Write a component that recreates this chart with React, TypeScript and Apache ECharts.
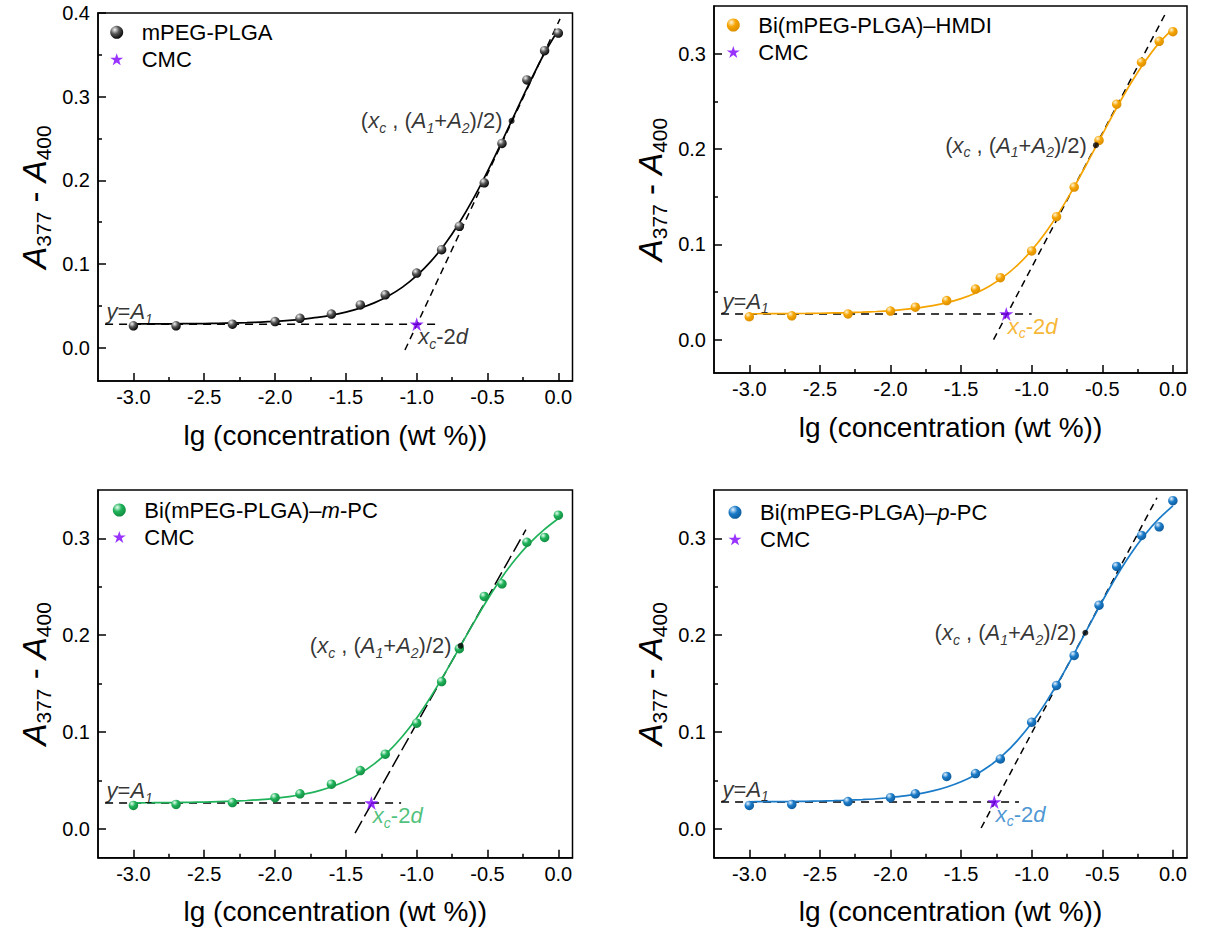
import React, { useEffect, useRef } from "react";
import * as echarts from "echarts";

const FONT = '"Liberation Sans", Arial, Helvetica, sans-serif';

// ---------- data ----------
const lgConc = [-3, -2.699, -2.301, -2, -1.824, -1.602, -1.398, -1.222, -1, -0.824, -0.699, -0.523, -0.398, -0.222, -0.097, 0];

const absMPEG = [0.026, 0.026, 0.028, 0.031, 0.035, 0.040, 0.051, 0.063, 0.089, 0.117, 0.145, 0.197, 0.244, 0.320, 0.355, 0.376];
const absHMDI = [0.024, 0.025, 0.027, 0.030, 0.034, 0.041, 0.053, 0.065, 0.093, 0.129, 0.160, 0.209, 0.247, 0.291, 0.313, 0.323];
const absMPC = [0.024, 0.025, 0.027, 0.032, 0.036, 0.046, 0.060, 0.077, 0.109, 0.152, 0.186, 0.240, 0.253, 0.296, 0.301, 0.324];
const absPPC = [0.024, 0.025, 0.028, 0.032, 0.036, 0.054, 0.057, 0.072, 0.110, 0.148, 0.179, 0.231, 0.271, 0.303, 0.312, 0.339];

const fitX = [-3.0, -2.9, -2.8, -2.7, -2.6, -2.5, -2.4, -2.3, -2.2, -2.1, -2.0, -1.9, -1.8, -1.7, -1.6, -1.5,
  -1.4, -1.3, -1.2, -1.1, -1.0, -0.9, -0.8, -0.7, -0.6, -0.5, -0.4, -0.3, -0.2, -0.1, 0.0];
const fitMPEG = [0.0282, 0.0282, 0.0283, 0.0284, 0.0286, 0.0287, 0.0290, 0.0294, 0.0298, 0.0305, 0.0313, 0.0324, 0.0340, 0.0360, 0.0387, 0.0423,
  0.0471, 0.0534, 0.0617, 0.0723, 0.0859, 0.1030, 0.1239, 0.1490, 0.1780, 0.2106, 0.2457, 0.2819, 0.3176, 0.3513, 0.3800];
const fitHMDI = [0.0271, 0.0272, 0.0273, 0.0274, 0.0275, 0.0277, 0.0280, 0.0283, 0.0288, 0.0295, 0.0304, 0.0317, 0.0334, 0.0357, 0.0388, 0.0430,
  0.0487, 0.0561, 0.0658, 0.0782, 0.0937, 0.1126, 0.1348, 0.1600, 0.1872, 0.2152, 0.2427, 0.2684, 0.2912, 0.3108, 0.3260];
const fitMPC = [0.0267, 0.0268, 0.0269, 0.0270, 0.0272, 0.0275, 0.0279, 0.0284, 0.0291, 0.0300, 0.0313, 0.0331, 0.0356, 0.0388, 0.0433, 0.0492,
  0.0569, 0.0669, 0.0796, 0.0955, 0.1144, 0.1364, 0.1607, 0.1864, 0.2122, 0.2369, 0.2594, 0.2790, 0.2954, 0.3090, 0.3205];
const fitPPC = [0.0278, 0.0279, 0.0280, 0.0281, 0.0283, 0.0286, 0.0289, 0.0294, 0.0301, 0.0309, 0.0322, 0.0338, 0.0360, 0.0390, 0.0431, 0.0485,
  0.0555, 0.0647, 0.0764, 0.0912, 0.1091, 0.1303, 0.1544, 0.1807, 0.2080, 0.2350, 0.2606, 0.2836, 0.3035, 0.3201, 0.3336];

const cmcMPEG = [-1.0, 0.028];
const cmcHMDI = [-1.18, 0.027];
const cmcMPC = [-1.32, 0.0265];
const cmcPPC = [-1.265, 0.0276];

const xcMPEG = [-0.33, 0.271];
const xcHMDI = [-0.545, 0.204];
const xcMPC = [-0.69, 0.189];
const xcPPC = [-0.62, 0.2025];

const baseMPEG = [[-3.2, 0.028], [-0.86, 0.028]];
const baseHMDI = [[-3.2, 0.027], [-1.0, 0.027]];
const baseMPC = [[-3.2, 0.0265], [-1.11, 0.0265]];
const basePPC = [[-3.2, 0.0276], [-1.09, 0.0276]];

const tanMPEG = [[-1.083, -0.003], [0.012, 0.393]];
const tanHMDI = [[-1.27, 0.0], [-0.042, 0.345]];
const tanMPC = [[-1.435, -0.0045], [-0.229, 0.309]];
const tanPPC = [[-1.358, 0.0007], [-0.113, 0.342]];

const seriesNames = ["mPEG-PLGA", "Bi(mPEG-PLGA)–HMDI", "Bi(mPEG-PLGA)–m-PC", "Bi(mPEG-PLGA)–p-PC"];

const xTicks = [-3, -2.5, -2, -1.5, -1, -0.5, 0];
const xMinorTicks = [-2.75, -2.25, -1.75, -1.25, -0.75, -0.25];
const yTicksA = [0, 0.1, 0.2, 0.3, 0.4];
const yMinorA = [0.05, 0.15, 0.25, 0.35];
const yTicksB = [0, 0.1, 0.2, 0.3];
const yMinorB = [0.05, 0.15, 0.25];

const xTitle = "lg (concentration (wt %))";

// ---------- styling ----------
const STAR = "path://M50,0 L61.8,35.1 L100,35.1 L69.1,56.7 L80.9,93.3 L50,70.5 L19.1,93.3 L30.9,56.7 L0,35.1 L38.2,35.1 Z";
const STAR_COLOR = "#8000FF";

function ball(light: string, base: string, dark: string) {
  return new echarts.graphic.RadialGradient(0.35, 0.3, 0.75, [
    { offset: 0, color: light },
    { offset: 0.45, color: base },
    { offset: 1, color: dark },
  ]);
}

function rich(color: string) {
  return {
    n: { fontFamily: FONT, fontSize: 22, color, lineHeight: 26 },
    i: { fontFamily: FONT, fontSize: 22, color, lineHeight: 26, fontStyle: "italic" },
    s: { fontFamily: FONT, fontSize: 14, color, lineHeight: 14, fontStyle: "italic", padding: [14, 0, 0, 0] },
  };
}

const legendRich = {
  n: { fontFamily: FONT, fontSize: 22, color: "#000", lineHeight: 24 },
  i: { fontFamily: FONT, fontSize: 22, color: "#000", lineHeight: 24, fontStyle: "italic" },
};

function legendText(name: string) {
  if (name === seriesNames[2]) return "{n|Bi(mPEG-PLGA)–}{i|m}{n|-PC}";
  if (name === seriesNames[3]) return "{n|Bi(mPEG-PLGA)–}{i|p}{n|-PC}";
  return "{n|" + name + "}";
}

const panels = [
  {
    name: seriesNames[0], color: "#000000", ball: ball("#f4f4f4", "#555555", "#000000"),
    abs: absMPEG, fit: fitMPEG, cmc: cmcMPEG, xc: xcMPEG, base: baseMPEG, tan: tanMPEG, tanDash: [7, 5],
    yMin: -0.04, yMax: 0.4, yTicks: yTicksA, yMinor: yMinorA,
    grid: { left: 98, top: 13, width: 474.5, height: 368 }, legend: { x: 116.7, y: 32.3 },
  },
  {
    name: seriesNames[1], color: "#F5A400", ball: ball("#fff4d6", "#F5A400", "#d98d00"),
    abs: absHMDI, fit: fitHMDI, cmc: cmcHMDI, xc: xcHMDI, base: baseHMDI, tan: tanHMDI, tanDash: [7, 5],
    yMin: -0.035, yMax: 0.35, yTicks: yTicksB, yMinor: yMinorB,
    grid: { left: 714, top: 6, width: 473, height: 367 }, legend: { x: 733.3, y: 25 },
  },
  {
    name: seriesNames[2], color: "#1FB25A", ball: ball("#e6fff0", "#1FB25A", "#12893f"),
    abs: absMPC, fit: fitMPC, cmc: cmcMPC, xc: xcMPC, base: baseMPC, tan: tanMPC, tanDash: [14, 5],
    yMin: -0.03, yMax: 0.35, yTicks: yTicksB, yMinor: yMinorB,
    grid: { left: 98, top: 490, width: 474.5, height: 367.7 }, legend: { x: 119.3, y: 510 },
  },
  {
    name: seriesNames[3], color: "#1A7BC8", ball: ball("#e4f2ff", "#1A7BC8", "#0e5a9a"),
    abs: absPPC, fit: fitPPC, cmc: cmcPPC, xc: xcPPC, base: basePPC, tan: tanPPC, tanDash: [7, 5],
    yMin: -0.03, yMax: 0.35, yTicks: yTicksB, yMinor: yMinorB,
    grid: { left: 714, top: 490, width: 473, height: 367.7 }, legend: { x: 735, y: 512.3 },
  },
];

const ICON = 13;

function buildOption() {
  const grid: any[] = [];
  const xAxis: any[] = [];
  const yAxis: any[] = [];
  const series: any[] = [];
  const legend: any[] = [];
  const black = { color: "#000", width: 1.5 };

  panels.forEach((p, i) => {
    grid.push({ ...p.grid, show: true, borderColor: "#000", borderWidth: 1.5, backgroundColor: "transparent" });
    const xi = xAxis.length;
    const yi = yAxis.length;
    xAxis.push({
      type: "value", gridIndex: i, min: -3.25, max: 0.1, position: "bottom",
      axisLine: { show: true, onZero: false, lineStyle: black },
      axisTick: { show: true, inside: true, length: 8, lineStyle: black, customValues: xTicks },
      axisLabel: {
        show: true, customValues: xTicks, formatter: (v: number) => v.toFixed(1),
        fontFamily: FONT, fontSize: 20, color: "#000", margin: 6,
      },
      splitLine: { show: false },
      name: xTitle, nameLocation: "middle", nameGap: 40,
      nameTextStyle: { fontFamily: FONT, fontSize: 28, color: "#000" },
    });
    xAxis.push({
      type: "value", gridIndex: i, min: -3.25, max: 0.1, position: "bottom",
      axisLine: { show: false, onZero: false },
      axisTick: { show: true, inside: true, length: 4, lineStyle: black, customValues: xMinorTicks },
      axisLabel: { show: false },
      splitLine: { show: false },
    });
    yAxis.push({
      type: "value", gridIndex: i, min: p.yMin, max: p.yMax, position: "left",
      axisLine: { show: true, onZero: false, lineStyle: black },
      axisTick: { show: true, inside: true, length: 8, lineStyle: black, customValues: p.yTicks },
      axisLabel: {
        show: true, customValues: p.yTicks, formatter: (v: number) => v.toFixed(1),
        fontFamily: FONT, fontSize: 20, color: "#000", margin: 8,
      },
      splitLine: { show: false },
      name: "{a|A}{s|377}{n| - }{a|A}{s|400}", nameLocation: "middle", nameGap: 46,
      nameTextStyle: {
        color: "#000",
        rich: {
          a: { fontFamily: FONT, fontSize: 33, fontStyle: "italic", color: "#000", lineHeight: 36 },
          n: { fontFamily: FONT, fontSize: 33, color: "#000", lineHeight: 36 },
          s: { fontFamily: FONT, fontSize: 21, color: "#000", lineHeight: 21, padding: [19, 0, 0, 0] },
        },
      },
    });
    yAxis.push({
      type: "value", gridIndex: i, min: p.yMin, max: p.yMax, position: "left",
      axisLine: { show: false, onZero: false },
      axisTick: { show: true, inside: true, length: 4, lineStyle: black, customValues: p.yMinor },
      axisLabel: { show: false },
      splitLine: { show: false },
    });

    // fit curve
    series.push({
      name: "fit-" + i, type: "line", xAxisIndex: xi, yAxisIndex: yi,
      data: fitX.map((x, k) => [x, p.fit[k]]),
      smooth: 0.3, showSymbol: false, symbol: "none", silent: true,
      lineStyle: { color: p.color, width: 1.7 }, z: 3,
    });
    // baseline y = A1
    series.push({
      name: "base-" + i, type: "line", xAxisIndex: xi, yAxisIndex: yi, data: p.base,
      showSymbol: false, symbol: "none", silent: true,
      lineStyle: { color: "#000", width: 1.5, type: [8, 6] }, z: 2,
    });
    // tangent
    series.push({
      name: "tan-" + i, type: "line", xAxisIndex: xi, yAxisIndex: yi, data: p.tan,
      showSymbol: false, symbol: "none", silent: true,
      lineStyle: { color: "#000", width: 1.5, type: p.tanDash }, z: 2,
    });
    // data points
    series.push({
      name: p.name, type: "scatter", xAxisIndex: xi, yAxisIndex: yi,
      data: lgConc.map((x, k) => [x, p.abs[k]]),
      symbol: "circle", symbolSize: 9.5, itemStyle: { color: p.ball, opacity: 1 }, z: 5,
    });
    // (xc, (A1+A2)/2) point
    series.push({
      name: "xc-" + i, type: "scatter", xAxisIndex: xi, yAxisIndex: yi, data: [p.xc],
      symbol: "circle", symbolSize: 6, itemStyle: { color: "#000" }, z: 6, silent: true,
      label: {
        show: true, position: "left", distance: 6,
        formatter: "{n|(}{i|x}{s|c}{n| , (}{i|A}{s|1}{n|+}{i|A}{s|2}{n|)/2)}",
        rich: rich("#000"),
      },
    });
    // CMC star
    series.push({
      name: "CMC", type: "scatter", xAxisIndex: xi, yAxisIndex: yi, data: [p.cmc],
      symbol: STAR, symbolSize: 14, itemStyle: { color: STAR_COLOR }, z: 7,
      label: {
        show: true, position: [8.5, 6.5], align: "left", verticalAlign: "top",
        formatter: "{i|x}{s|c}{n|-2}{i|d}", rich: rich(p.color),
      },
    });
    // y = A1 label
    series.push({
      name: "a1-" + i, type: "scatter", xAxisIndex: xi, yAxisIndex: yi, data: [p.base[0]],
      symbol: "circle", symbolSize: 1, itemStyle: { color: "rgba(0,0,0,0)" }, z: 6, silent: true,
      label: {
        show: true, position: [2, -25], align: "left", verticalAlign: "top",
        formatter: "{i|y}{n|=}{i|A}{s|1}", rich: rich("#000"),
      },
    });

    legend.push({
      orient: "vertical", left: p.legend.x - ICON / 2, top: p.legend.y - 12, padding: 0, itemGap: 3,
      itemWidth: ICON, itemHeight: ICON, selectedMode: false,
      data: [p.name, "CMC"],
      formatter: (name: string) => legendText(name),
      textStyle: {
        fontFamily: FONT, fontSize: 22, color: "#000", lineHeight: 24,
        padding: [0, 0, 0, 25 - ICON / 2 - 5], rich: legendRich,
      },
    });
  });

  return {
    animation: false,
    backgroundColor: "#ffffff",
    textStyle: { fontFamily: FONT },
    grid, xAxis, yAxis, series, legend,
  };
}

export default function App() {
  const ref = useRef<HTMLDivElement>(null);
  useEffect(() => {
    if (!ref.current) return;
    const chart = echarts.init(ref.current, null, { renderer: "svg" });
    chart.setOption(buildOption() as any);
    return () => chart.dispose();
  }, []);
  return (
    <div
      ref={ref}
      style={{ position: "fixed", left: 0, top: 0, width: 1209, height: 933, background: "#fff" }}
    />
  );
}
